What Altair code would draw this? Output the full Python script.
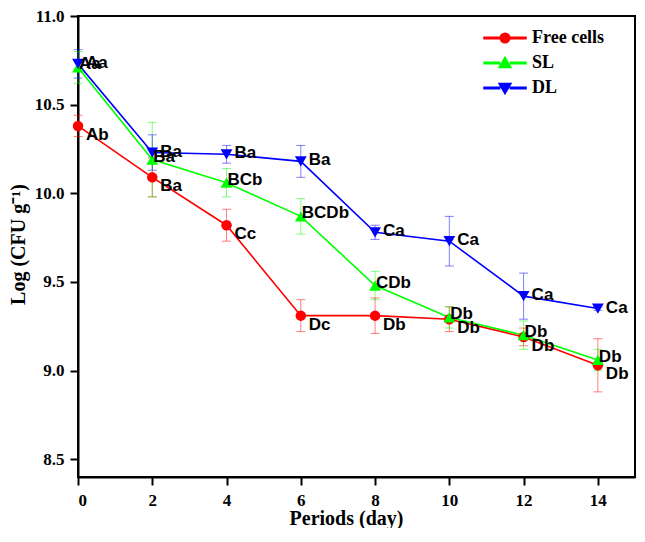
import altair as alt
import pandas as pd

days = [0, 2, 4, 6, 8, 10, 12, 14]
series_names = ["Free cells", "SL", "DL"]
series_colors = ["#FF0000", "#00FF00", "#0000FF"]

free_vals = [10.38, 10.09, 9.82, 9.31, 9.31, 9.29, 9.19, 9.03]
free_err = [0.06, 0.11, 0.09, 0.09, 0.10, 0.07, 0.05, 0.15]
free_lbl = ["Ab", "Ba", "Cc", "Dc", "Db", "Db", "Db", "Db"]

sl_vals = [10.71, 10.19, 10.06, 9.87, 9.48, 9.30, 9.20, 9.06]
sl_err = [0.09, 0.21, 0.08, 0.10, 0.08, 0.06, 0.08, 0.06]
sl_lbl = ["Aa", "Ba", "BCb", "BCDb", "CDb", "Db", "Db", "Db"]

dl_vals = [10.73, 10.23, 10.22, 10.18, 9.78, 9.73, 9.42, 9.35]
dl_err = [0.08, 0.10, 0.05, 0.09, 0.04, 0.14, 0.13, 0.01]
dl_lbl = ["Aa", "Ba", "Ba", "Ba", "Ca", "Ca", "Ca", "Ca"]

x_ticks = [0, 2, 4, 6, 8, 10, 12, 14]
y_ticks = [8.5, 9.0, 9.5, 10.0, 10.5, 11.0]

rows = []
for name, vals, errs, lbls in [
    ("Free cells", free_vals, free_err, free_lbl),
    ("SL", sl_vals, sl_err, sl_lbl),
    ("DL", dl_vals, dl_err, dl_lbl),
]:
    for d, v, e, l in zip(days, vals, errs, lbls):
        rows.append({"day": d, "value": v, "lo": v - e, "hi": v + e,
                     "series": name, "label": l})
df = pd.DataFrame(rows)

FONT_SERIF = "Liberation Serif"
FONT_SANS = "Liberation Sans"

PLOT_W = 557
PLOT_H = 461

x_enc = alt.X(
    "day:Q",
    scale=alt.Scale(domain=[0, 15], nice=False),
    axis=alt.Axis(values=x_ticks, format="d", title="Periods (day)",
                  titleX=268, titleY=47, titleAlign="center",
                  titleBaseline="alphabetic", labelPadding=7),
)


def y_enc(field):
    return alt.Y(
        field,
        scale=alt.Scale(domain=[8.4, 11.0], nice=False, zero=False),
        axis=alt.Axis(values=y_ticks, format=".1f", title="Log (CFU g⁻¹)",
                      titleX=-60, titleY=228, titleAngle=270,
                      titleAlign="center", titleBaseline="middle",
                      labelPadding=6),
    )


color_scale = alt.Scale(domain=series_names, range=series_colors)
color_nolegend = alt.Color("series:N", scale=color_scale, legend=None)

base = alt.Chart(df)

legend_paths = [
    "M-3.5,-0.12H-0.8V0.12H-3.5Z M0.8,-0.12H3.5V0.12H0.8Z "
    "M-0.8,0A0.8,0.8 0 1,1 0.8,0A0.8,0.8 0 1,1 -0.8,0Z",
    "M-3.5,-0.12H-0.9V0.12H-3.5Z M0.9,-0.12H3.5V0.12H0.9Z "
    "M0,-0.95L1,0.75L-1,0.75Z",
    "M-3.5,-0.12H-0.9V0.12H-3.5Z M0.9,-0.12H3.5V0.12H0.9Z "
    "M0,0.95L1,-0.75L-1,-0.75Z",
]

leg = alt.Legend(
    title=None, orient="none", legendX=418, legendY=13,
    labelFont=FONT_SERIF, labelFontWeight="bold", labelFontSize=18,
    labelColor="black", labelOffset=18, rowPadding=7, symbolSize=144,
    symbolOpacity=1, padding=0,
)

# invisible layer that only carries the legend (placed first so its legend wins)
legend_layer = base.mark_point(filled=True, opacity=0, size=144).encode(
    x=x_enc,
    y=y_enc("value:Q"),
    color=alt.Color("series:N", scale=color_scale, legend=leg),
    shape=alt.Shape("series:N",
                    scale=alt.Scale(domain=series_names, range=legend_paths),
                    legend=leg),
)

errbars = base.mark_errorbar(
    ticks={"size": 9, "thickness": 1}, thickness=1, opacity=0.5
).encode(x=x_enc, y=y_enc("lo:Q"), y2="hi:Q", color=color_nolegend)

lines = base.mark_line(strokeWidth=1.6).encode(
    x=x_enc, y=y_enc("value:Q"), color=color_nolegend, order="day:Q"
)

marker_layers = []
for name, shape, size in [("Free cells", "circle", 110),
                          ("SL", "triangle-up", 140),
                          ("DL", "triangle-down", 140)]:
    marker_layers.append(
        base.mark_point(shape=shape, filled=True, size=size, opacity=1)
        .encode(x=x_enc, y=y_enc("value:Q"), color=color_nolegend)
        .transform_filter(alt.datum.series == name)
    )

text_layers = []
for name, dx, dy in [("Free cells", 8, 9), ("SL", 1, -3), ("DL", 8, -1)]:
    text_layers.append(
        base.mark_text(align="left", baseline="middle", dx=dx, dy=dy,
                       font=FONT_SANS, fontWeight="bold", fontSize=17,
                       color="black")
        .encode(x=x_enc, y=y_enc("value:Q"), text="label:N")
        .transform_filter(alt.datum.series == name)
    )

chart = alt.layer(legend_layer, errbars, lines, *marker_layers, *text_layers).properties(
    width=PLOT_W,
    height=PLOT_H,
    padding={"left": 70, "top": 8, "right": 1, "bottom": 51},
    autosize=alt.AutoSizeParams(type="none"),
).configure_view(
    stroke="black", strokeWidth=2
).configure_axis(
    grid=False,
    labelFont=FONT_SERIF, labelFontWeight="bold", labelFontSize=17,
    labelColor="black",
    titleFont=FONT_SERIF, titleFontWeight="bold", titleFontSize=20,
    titleColor="black",
    domainColor="black", domainWidth=2,
    tickColor="black", tickWidth=2, tickSize=8,
)

chart.save("out.html", embed_options={"renderer": "svg", "actions": False})
